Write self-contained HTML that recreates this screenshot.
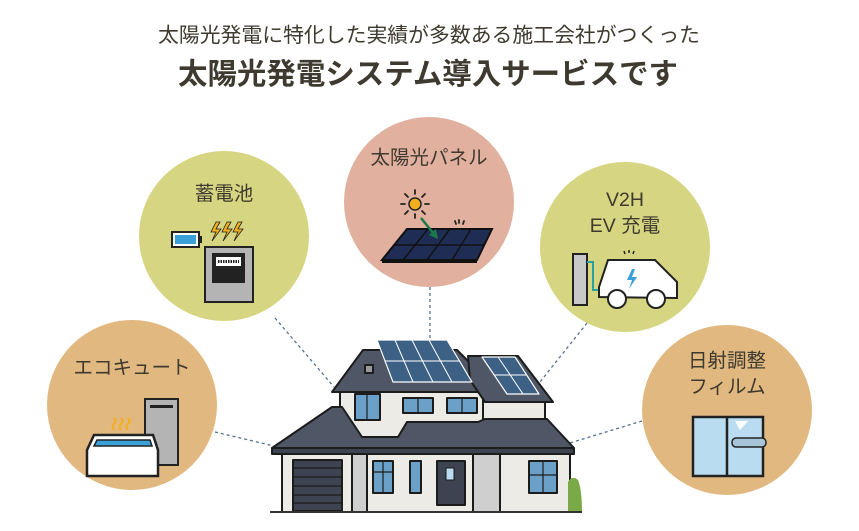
<!DOCTYPE html>
<html><head><meta charset="utf-8"><style>
html,body{margin:0;padding:0;background:#fff}
body{width:859px;height:531px;overflow:hidden}
svg{display:block}
text{font-family:"Liberation Sans","Noto Sans CJK JP",sans-serif;fill:#3e3a2f}
</style></head><body>
<svg width="859" height="531" viewBox="0 0 859 531" xmlns="http://www.w3.org/2000/svg">
<text x="429" y="42" font-size="20.5" text-anchor="middle" textLength="542" lengthAdjust="spacingAndGlyphs">太陽光発電に特化した実績が多数ある施工会社がつくった</text>
<text x="428" y="84" font-size="29.5" font-weight="bold" text-anchor="middle" textLength="500" lengthAdjust="spacingAndGlyphs">太陽光発電システム導入サービスです</text>

<!-- connectors -->
<g stroke="#56708e" stroke-width="1.3" stroke-dasharray="3,3" fill="none">
<line x1="275" y1="318" x2="334" y2="387"/>
<line x1="430" y1="287" x2="430" y2="338"/>
<line x1="587" y1="323" x2="540" y2="382"/>
<line x1="642" y1="421" x2="570" y2="443"/>
<line x1="215" y1="432" x2="274" y2="446"/>
</g>

<!-- circles -->
<circle cx="224" cy="236" r="85" fill="#d6d581"/>
<circle cx="429" cy="202" r="85" fill="#e1b09e"/>
<circle cx="625" cy="247" r="85" fill="#d6d581"/>
<circle cx="132" cy="405" r="85" fill="#e2b881"/>
<circle cx="727" cy="410" r="85" fill="#e2b881"/>

<!-- labels -->
<text x="224" y="200" font-size="19.5" text-anchor="middle">蓄電池</text>
<text x="429" y="164" font-size="19.5" text-anchor="middle">太陽光パネル</text>
<text x="625" y="206" font-size="19.5" text-anchor="middle">V2H</text>
<text x="625" y="232" font-size="19.5" text-anchor="middle">EV 充電</text>
<text x="132" y="374" font-size="19.5" text-anchor="middle">エコキュート</text>
<text x="727" y="367" font-size="19.5" text-anchor="middle">日射調整</text>
<text x="727" y="393" font-size="19.5" text-anchor="middle">フィルム</text>

<!-- battery icon -->
<rect x="172" y="232" width="27" height="15" fill="#fff" stroke="#222" stroke-width="2"/>
<rect x="199" y="236" width="3" height="7" fill="#222"/>
<rect x="175" y="235" width="21" height="9" fill="#3aa0d8"/>
<g fill="#f2b01e" stroke="#222" stroke-width="0.8">
<path d="M216 222 L211 232 L216 232 L212 241 L221 229 L216 229 L220 222Z"/>
<path d="M227 222 L222 232 L227 232 L223 241 L232 229 L227 229 L231 222Z"/>
<path d="M238 222 L233 232 L238 232 L234 241 L243 229 L238 229 L242 222Z"/>
</g>
<rect x="205" y="247" width="48" height="55" fill="#b4b4b4" stroke="#222" stroke-width="2"/>
<rect x="212" y="253" width="33" height="30" fill="#222"/>
<rect x="216" y="257" width="25" height="9" fill="#fff"/>
<line x1="218" y1="261.5" x2="239" y2="261.5" stroke="#222" stroke-width="3" stroke-dasharray="1.5,1"/>

<!-- solar icon -->
<g stroke="#222" stroke-width="1.8" stroke-linecap="round">
<line x1="415" y1="190" x2="415" y2="194"/><line x1="415" y1="214" x2="415" y2="218"/>
<line x1="401" y1="204" x2="405" y2="204"/><line x1="425" y1="204" x2="429" y2="204"/>
<line x1="405" y1="194" x2="408" y2="197"/><line x1="422" y1="211" x2="425" y2="214"/>
<line x1="425" y1="194" x2="422" y2="197"/><line x1="405" y1="214" x2="408" y2="211"/>
<line x1="459" y1="220" x2="459" y2="223"/><line x1="464" y1="221" x2="463" y2="224"/><line x1="455" y1="221" x2="456" y2="224"/>
</g>
<circle cx="415" cy="204" r="6" fill="#f2b01e" stroke="#222" stroke-width="1.5"/>
<path d="M382 260 L407 229 L492 229 L477 260Z" fill="#1f2d55" stroke="#111" stroke-width="2"/>
<path d="M382 260 L477 260 L477 263 L382 263Z" fill="#111"/>
<g stroke="#111" stroke-width="1.5"><line x1="394" y1="245" x2="485" y2="245"/><line x1="428" y1="229" x2="403" y2="260"/><line x1="450" y1="229" x2="427" y2="260"/><line x1="471" y1="229" x2="452" y2="260"/></g>
<line x1="421" y1="218" x2="434" y2="234" stroke="#1a7a4c" stroke-width="2.5"/>
<path d="M438 239 L429 235 L436 229Z" fill="#1a7a4c"/>

<!-- V2H icon -->
<rect x="573" y="254" width="14" height="51" fill="#c8c8c8" stroke="#222" stroke-width="2"/>
<path d="M587 262 L593 262 L593 290 L600 290" stroke="#2aa0a0" stroke-width="2" fill="none"/>
<path d="M599 297 L599 287 L608 260 L655 260 L677 282 L677 298Z" fill="#fff" stroke="#222" stroke-width="2"/>
<path d="M632 269 L627 280 L632 280 L629 289 L637 277 L632 277 L635 269Z" fill="#3aa0d8"/>
<circle cx="617" cy="299" r="9" fill="#fff" stroke="#222" stroke-width="2"/>
<circle cx="656" cy="299" r="9" fill="#fff" stroke="#222" stroke-width="2"/>
<g stroke="#222" stroke-width="1.5"><line x1="629" y1="250" x2="629" y2="253"/><line x1="624" y1="251" x2="625" y2="254"/><line x1="634" y1="251" x2="633" y2="254"/></g>

<!-- film icon -->
<rect x="693" y="417" width="70" height="59" fill="#b9dcf0" stroke="#222" stroke-width="2.5"/>
<line x1="727" y1="417" x2="727" y2="476" stroke="#222" stroke-width="2.5"/>
<path d="M735 421 L748 421 L740 430Z" fill="#fff"/>
<rect x="732" y="438" width="34" height="9" rx="4" fill="#a8c4d8" stroke="#222" stroke-width="1.5"/>

<!-- eco icon -->
<rect x="145" y="399" width="33" height="66" fill="#b4b4b4" stroke="#222" stroke-width="2"/>
<rect x="150" y="405" width="23" height="3" fill="#222"/>
<g stroke="#f2b01e" stroke-width="2" fill="none">
<path d="M114 418 q3 3 0 6 q-3 3 0 6"/><path d="M121 418 q3 3 0 6 q-3 3 0 6"/><path d="M128 418 q3 3 0 6 q-3 3 0 6"/>
</g>
<path d="M87 476 L87 450 L94 435 L153 435 L158 450 L158 476Z" fill="#fff" stroke="#222" stroke-width="2.5"/>
<path d="M94 446 L97 440 L150 440 L152 446Z" fill="#3aa0d8" stroke="#222" stroke-width="1.5"/>

<!-- house -->
<g stroke="#1c1c1c" stroke-width="2" stroke-linejoin="round">
<rect x="282" y="450" width="288" height="62" fill="#ecebe6"/>
<rect x="340" y="385" width="143" height="55" fill="#ecebe6"/>
<rect x="483" y="400" width="62" height="22" fill="#ecebe6"/>
<rect x="352" y="452" width="15" height="60" fill="#cfcfcf"/>
<rect x="473" y="452" width="27" height="60" fill="#cfcfcf"/>
<path d="M332 392 L363 350 L457 350 L492 385 L492 392Z" fill="#4f5666"/>
<path d="M468 356 L518 356 L553 402 L485 402 L470 380Z" fill="#4f5666"/>
<path d="M272 448 L332 407 L342 407 L362 437 L398 437 L407 422 L478 422 L485 419 L547 419 L574 448Z" fill="#4f5666"/>
<rect x="272" y="448" width="302" height="6" fill="#3d4350"/>
<rect x="293" y="460" width="49" height="51" fill="#3d4350"/>
<path d="M377 340 L447 340 L472 382 L393 382Z" fill="#3d6185" stroke="#fff" stroke-width="1.2"/>
<path d="M482 357 L515 357 L539 394 L507 394Z" fill="#3d6185" stroke="#fff" stroke-width="1.2"/>
<rect x="355" y="394" width="25" height="26" fill="#6ba0c8"/>
<rect x="403" y="398" width="30" height="15" fill="#6ba0c8"/>
<rect x="447" y="398" width="30" height="15" fill="#6ba0c8"/>
<rect x="373" y="461" width="20" height="32" fill="#6ba0c8"/>
<rect x="410" y="461" width="11" height="32" fill="#6ba0c8"/>
<rect x="437" y="461" width="28" height="44" fill="#3d4350"/>
<rect x="529" y="461" width="28" height="32" fill="#6ba0c8"/>
<rect x="365" y="365" width="8" height="8" fill="#9a9a9a"/>
</g>
<g stroke="#fff" stroke-width="1">
<line x1="385" y1="361" x2="459" y2="361"/>
<line x1="395" y1="340" x2="413" y2="382"/><line x1="412" y1="340" x2="433" y2="382"/><line x1="429" y1="340" x2="452" y2="382"/>
<line x1="494" y1="375" x2="527" y2="375"/><line x1="498" y1="357" x2="523" y2="394"/>
</g>
<g stroke="#1c1c1c" stroke-width="1.2">
<line x1="293" y1="468" x2="342" y2="468"/><line x1="293" y1="477" x2="342" y2="477"/><line x1="293" y1="486" x2="342" y2="486"/><line x1="293" y1="495" x2="342" y2="495"/><line x1="293" y1="503" x2="342" y2="503"/>
<line x1="367" y1="394" x2="367" y2="420"/><line x1="418" y1="398" x2="418" y2="413"/><line x1="462" y1="398" x2="462" y2="413"/>
<line x1="383" y1="461" x2="383" y2="493"/><line x1="373" y1="472" x2="393" y2="472"/><line x1="543" y1="461" x2="543" y2="493"/><line x1="529" y1="475" x2="557" y2="475"/>
</g>
<rect x="446" y="468" width="8" height="12" fill="#b9dcf0" stroke="#1c1c1c" stroke-width="1"/>
<path d="M568 512 L568 482 Q572 475 578 480 Q582 490 582 512Z" fill="#7aaa48"/>
<line x1="270" y1="512" x2="582" y2="512" stroke="#333" stroke-width="2"/>
</svg>
</body></html>
